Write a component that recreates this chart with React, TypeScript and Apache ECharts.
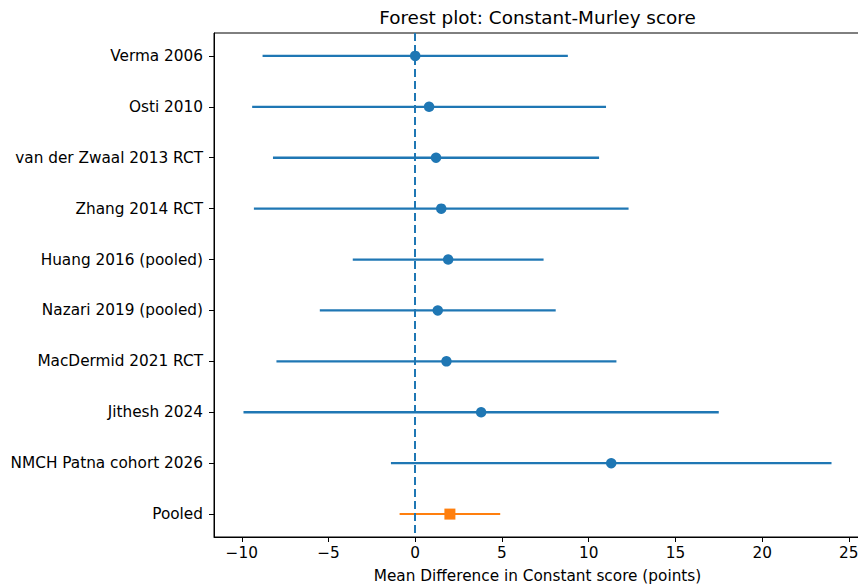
import React, { useEffect, useRef } from "react";
import * as echarts from "echarts";

const studies = [
  "Verma 2006",
  "Osti 2010",
  "van der Zwaal 2013 RCT",
  "Zhang 2014 RCT",
  "Huang 2016 (pooled)",
  "Nazari 2019 (pooled)",
  "MacDermid 2021 RCT",
  "Jithesh 2024",
  "NMCH Patna cohort 2026",
  "Pooled",
];
const meanDiff = [0.0, 0.8, 1.2, 1.5, 1.9, 1.3, 1.8, 3.8, 11.3, 2.0];
const ciLow = [-8.8, -9.4, -8.2, -9.3, -3.6, -5.5, -8.0, -9.9, -1.4, -0.9];
const ciHigh = [8.8, 11.0, 10.6, 12.3, 7.4, 8.1, 11.6, 17.5, 24.0, 4.9];
const xTicks = [-10, -5, 0, 5, 10, 15, 20, 25];

const FONT = "DejaVu Sans";
const BLUE = "#1f77b4";
const ORANGE = "#ff7f0e";
const FS = 15.3;

export default function App() {
  const ref = useRef<HTMLDivElement>(null);
  useEffect(() => {
    document.body.style.margin = "0";
    const chart = echarts.init(ref.current!, null, { renderer: "svg" });
    const nStudies = studies.length - 1;
    const studyBars = [] as number[][];
    const studyPts = [] as number[][];
    for (let i = 0; i < nStudies; i++) {
      studyBars.push([ciLow[i], ciHigh[i], i]);
      studyPts.push([meanDiff[i], i]);
    }
    const pooledBars = [[ciLow[nStudies], ciHigh[nStudies], nStudies]];
    const pooledPts = [[meanDiff[nStudies], nStudies]];
    const yTicks = studies.map((_, i) => i);

    const makeRender = (color: string, width: number) => (params: any, api: any) => {
      const lo = api.value(0);
      const hi = api.value(1);
      const y = api.value(2);
      const p1 = api.coord([lo, y]);
      const p2 = api.coord([hi, y]);
      return {
        type: "line",
        shape: { x1: p1[0], y1: p1[1], x2: p2[0], y2: p2[1] },
        style: { stroke: color, lineWidth: width },
      };
    };

    chart.setOption({
      animation: false,
      backgroundColor: "#fff",
      textStyle: { fontFamily: FONT },
      grid: {
        left: 214,
        top: 33,
        right: -3,
        bottom: 50,
        outerBoundsMode: "none",
        containLabel: false,
        show: true,
        borderColor: "#000",
        borderWidth: 1,
        backgroundColor: "transparent",
      },
      graphic: [
        {
          type: "text",
          x: 537.5,
          y: 17,
          style: {
            text: "Forest plot: Constant-Murley score",
            fill: "#000",
            font: `18.4px "${FONT}"`,
            fontSize: 18.4,
            fontFamily: FONT,
            align: "center",
            verticalAlign: "middle",
            textAlign: "center",
            textVerticalAlign: "middle",
          },
        },
      ],
      xAxis: {
        type: "value",
        min: -11.6,
        max: 25.7,
        name: "Mean Difference in Constant score (points)",
        nameLocation: "middle",
        nameGap: 31,
        nameTextStyle: { fontSize: FS, color: "#000", fontFamily: FONT },
        axisLine: { show: true, onZero: false, lineStyle: { color: "#000", width: 1 } },
        axisTick: {
          show: true,
          length: 5,
          lineStyle: { color: "#000", width: 1 },
          customValues: xTicks,
        },
        axisLabel: {
          fontSize: FS,
          color: "#000",
          fontFamily: FONT,
          margin: 8,
          customValues: xTicks,
          formatter: (v: number) => (v < 0 ? "\u2212" + Math.abs(v) : String(v)),
        },
        splitLine: { show: false },
      },
      yAxis: {
        type: "value",
        inverse: true,
        min: -0.45,
        max: 9.45,
        axisLine: { show: true, onZero: false, lineStyle: { color: "#000", width: 1 } },
        axisTick: {
          show: true,
          length: 5,
          lineStyle: { color: "#000", width: 1 },
          customValues: yTicks,
        },
        axisLabel: {
          fontSize: FS,
          color: "#000",
          fontFamily: FONT,
          margin: 11,
          customValues: yTicks,
          formatter: (v: number) => studies[Math.round(v)] ?? "",
        },
        splitLine: { show: false },
      },
      series: [
        {
          type: "custom",
          data: studyBars,
          encode: { x: [0, 1], y: 2 },
          renderItem: makeRender(BLUE, 2.3),
          z: 2,
        },
        {
          type: "custom",
          data: pooledBars,
          encode: { x: [0, 1], y: 2 },
          renderItem: makeRender(ORANGE, 2),
          z: 2,
        },
        {
          type: "scatter",
          data: studyPts,
          symbol: "circle",
          symbolSize: 10.5,
          itemStyle: { color: BLUE, opacity: 1 },
          z: 4,
          markLine: {
            silent: true,
            symbol: "none",
            label: { show: false },
            lineStyle: { color: BLUE, type: [8, 4], width: 2 },
            data: [{ xAxis: 0 }],
            z: 3,
          },
        },
        {
          type: "scatter",
          data: pooledPts,
          symbol: "rect",
          symbolSize: 11,
          itemStyle: { color: ORANGE, opacity: 1 },
          z: 4,
        },
      ],
    });
    return () => chart.dispose();
  }, []);
  return (
    <div
      ref={ref}
      style={{ position: "absolute", left: 0, top: 0, width: 858, height: 587 }}
    />
  );
}
